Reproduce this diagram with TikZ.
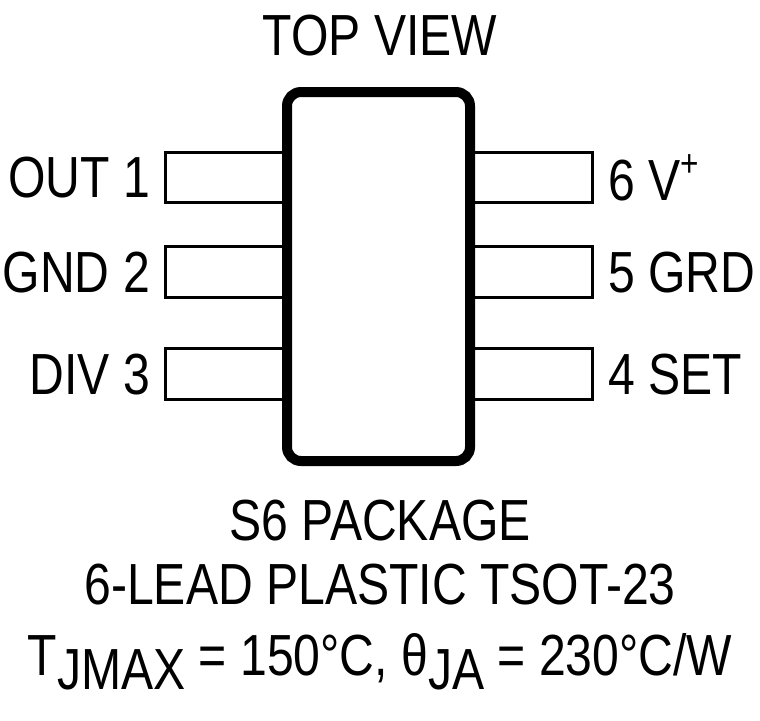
\documentclass[tikz,border=0pt]{standalone}
\usepackage{fontspec}
\setmainfont{Liberation Sans}
\begin{document}
\begin{tikzpicture}[x=1pt,y=-1pt,
  lbl/.style={font=\fontsize{58}{60}\selectfont, xscale=0.83, inner sep=0pt},
  pin/.style={draw, line width=3pt}]
\useasboundingbox (0,0) rectangle (760,720);
\draw[line width=10pt, rounded corners=14pt] (287,92) rectangle (470,461);
\draw[pin] (165,152) rectangle (287,202);
\draw[pin] (165,246) rectangle (287,297);
\draw[pin] (165,348) rectangle (287,399);
\draw[pin] (470,152) rectangle (592,202);
\draw[pin] (470,246) rectangle (592,297);
\draw[pin] (470,348) rectangle (592,399);
\node[lbl, anchor=east] (l1) at (150,178) {OUT 1};
\node[lbl, anchor=east] (l2) at (150,273) {GND 2};
\node[lbl, anchor=east] (l3) at (150,375) {DIV 3};
\node[lbl, anchor=west] (r1) at (608,178) {6 V\raisebox{0.42em}{\fontsize{38}{40}\selectfont +}};
\node[lbl, anchor=west] (r2) at (608,273) {5 GRD};
\node[lbl, anchor=west] (r3) at (608,375) {4 SET};
\node[lbl] (t) at (380,36) {TOP VIEW};
\node[lbl] (s6) at (380,521) {S6 PACKAGE};
\node[lbl] (pk) at (380,585) {6-LEAD PLASTIC TSOT-23};
\node[lbl] (th) at (380,662) {T\raisebox{-0.25em}{JMAX} = 150°C, θ\raisebox{-0.25em}{JA} = 230°C/W};
\end{tikzpicture}
\end{document}
